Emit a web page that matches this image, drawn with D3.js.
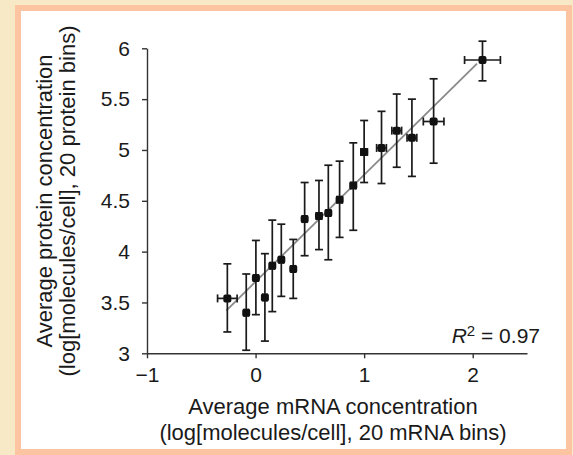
<!DOCTYPE html>
<html>
<head>
<meta charset="utf-8">
<script src="https://cdn.jsdelivr.net/npm/d3@7"></script>
<style>
  html, body { margin: 0; padding: 0; background: #f7e9c6; }
  svg { display: block; }
  text { font-family: "Liberation Sans", Arial, sans-serif; fill: #1a1a1a; }
</style>
</head>
<body>
<svg id="chart" width="573" height="455"></svg>
<script>
// binned means
var mrna     = [-0.26, -0.086, 0.003, 0.086, 0.154, 0.237, 0.347, 0.452, 0.584, 0.67, 0.774, 0.90, 1.0, 1.16, 1.30, 1.44, 1.64, 2.09];
var protein  = [3.54, 3.40, 3.74, 3.55, 3.86, 3.92, 3.83, 4.32, 4.35, 4.38, 4.51, 4.65, 4.98, 5.02, 5.19, 5.12, 5.28, 5.885];
var protLow  = [3.21, 3.03, 3.38, 3.12, 3.41, 3.56, 3.54, 3.96, 4.02, 3.92, 4.14, 4.21, 4.68, 4.67, 4.83, 4.74, 4.87, 5.68];
var protHigh = [3.88, 3.78, 4.11, 3.98, 4.31, 4.27, 4.12, 4.68, 4.70, 4.85, 4.89, 5.07, 5.29, 5.38, 5.55, 5.50, 5.70, 6.07];
var mrnaErr  = [0.09, 0.02, 0.02, 0.02, 0.02, 0.02, 0.02, 0.02, 0.025, 0.02, 0.025, 0.025, 0.03, 0.045, 0.045, 0.045, 0.095, 0.165];

// fitted line ends
var fitX = [-0.27, 2.04];
var fitY = [3.42, 5.85];

var xTicks = [-1, 0, 1, 2];
var yTicks = [3, 3.5, 4, 4.5, 5, 5.5, 6];
var r2Label = "0.97";

var svg = d3.select('#chart');

// white panel with peach frame
svg.append('rect')
  .attr('x', 18).attr('y', 8)
  .attr('width', 551).attr('height', 444)
  .attr('fill', '#fff')
  .attr('stroke', '#fcc4a0')
  .attr('stroke-width', 6);

var x = d3.scaleLinear().domain([-1, 2.5]).range([147, 527]);
var y = d3.scaleLinear().domain([3, 6]).range([353.3, 48.3]);

var xAxis = svg.append('g')
  .attr('transform', 'translate(0,' + y(3) + ')')
  .call(d3.axisBottom(x).tickValues(xTicks).tickSize(5).tickPadding(9).tickSizeOuter(0)
    .tickFormat(d3.format('')));

var yAxis = svg.append('g')
  .attr('transform', 'translate(' + x(-1) + ',0)')
  .call(d3.axisLeft(y).tickValues(yTicks).tickSize(5).tickPadding(12).tickSizeOuter(0)
    .tickFormat(d3.format('')));

[xAxis, yAxis].forEach(function(g) {
  g.selectAll('path, line').attr('stroke', '#333').attr('stroke-width', 1.4);
  g.selectAll('text').attr('font-size', 21).attr('fill', '#1a1a1a')
    .attr('font-family', '"Liberation Sans", Arial, sans-serif');
});

// regression line
svg.append('line')
  .attr('x1', x(fitX[0])).attr('y1', y(fitY[0]))
  .attr('x2', x(fitX[1])).attr('y2', y(fitY[1]))
  .attr('stroke', '#8a8a8a')
  .attr('stroke-width', 1.8);

var idx = d3.range(mrna.length);
var cap = 4;
var g = svg.append('g').attr('stroke', '#1a1a1a').attr('stroke-width', 1.7);

idx.forEach(function(i) {
  var cx = x(mrna[i]), cy = y(protein[i]);
  var yl = y(protLow[i]), yh = y(protHigh[i]);
  var xl = x(mrna[i] - mrnaErr[i]), xh = x(mrna[i] + mrnaErr[i]);
  g.append('line').attr('x1', cx).attr('x2', cx).attr('y1', yl).attr('y2', yh);
  g.append('line').attr('x1', cx - cap).attr('x2', cx + cap).attr('y1', yl).attr('y2', yl);
  g.append('line').attr('x1', cx - cap).attr('x2', cx + cap).attr('y1', yh).attr('y2', yh);
  g.append('line').attr('x1', xl).attr('x2', xh).attr('y1', cy).attr('y2', cy);
  g.append('line').attr('x1', xl).attr('x2', xl).attr('y1', cy - cap).attr('y2', cy + cap);
  g.append('line').attr('x1', xh).attr('x2', xh).attr('y1', cy - cap).attr('y2', cy + cap);
});

svg.append('g').selectAll('rect')
  .data(idx)
  .enter()
  .append('rect')
  .attr('x', function(i) { return x(mrna[i]) - 4; })
  .attr('y', function(i) { return y(protein[i]) - 4; })
  .attr('width', 8).attr('height', 8)
  .attr('rx', 2)
  .attr('fill', '#111');

// R^2 note
var r2 = svg.append('text')
  .attr('x', 540).attr('y', 342.5)
  .attr('text-anchor', 'end')
  .attr('font-size', 21);
r2.append('tspan').attr('font-style', 'italic').text('R');
r2.append('tspan').attr('font-size', 15).attr('dy', -7).text('2');
r2.append('tspan').attr('dy', 7).text(' = ' + r2Label);

// axis titles
var xt = svg.append('text').attr('text-anchor', 'middle').attr('font-size', 22);
xt.append('tspan').attr('x', 333).attr('y', 414).text('Average mRNA concentration');
xt.append('tspan').attr('x', 333).attr('y', 440).text('(log[molecules/cell], 20 mRNA bins)');

var yt = svg.append('text').attr('text-anchor', 'middle').attr('font-size', 22)
  .attr('transform', 'translate(0,201) rotate(-90)');
yt.append('tspan').attr('x', 0).attr('y', 52).text('Average protein concentration');
yt.append('tspan').attr('x', 0).attr('y', 75).text('(log[molecules/cell], 20 protein bins)');
</script>
</body>
</html>
